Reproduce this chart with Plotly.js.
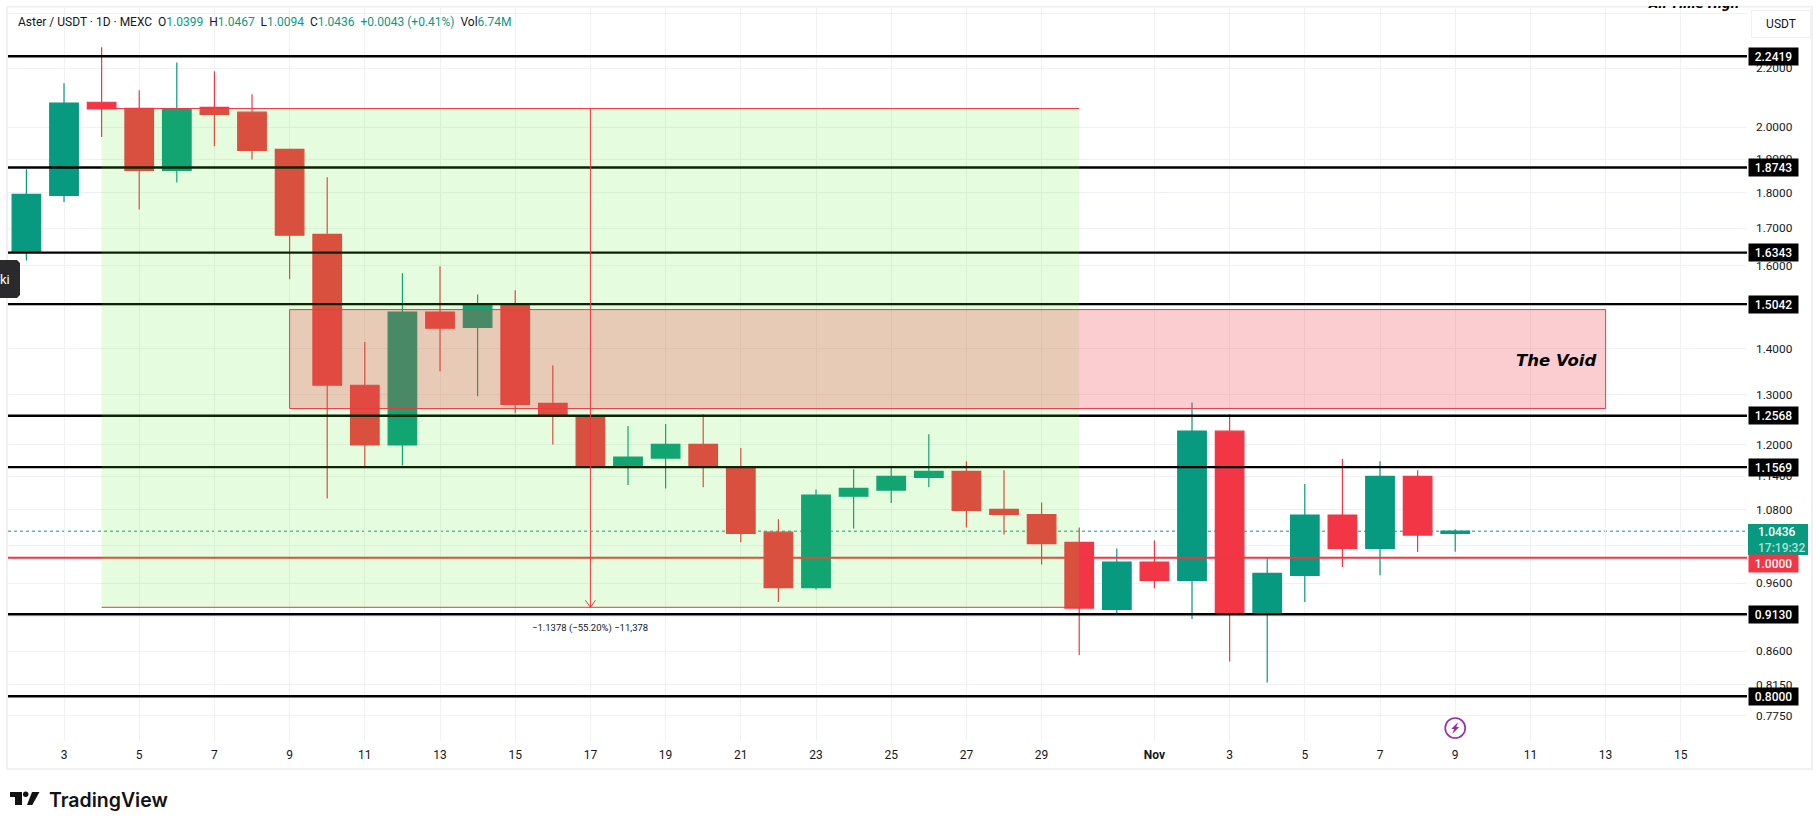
<!DOCTYPE html>
<html>
<head>
<meta charset="utf-8">
<script src="https://cdn.plot.ly/plotly-3.0.1.min.js"></script>
<style>
html,body{margin:0;padding:0;background:#fff;overflow:hidden}
#chart{width:1816px;height:819px}
#strip{position:absolute;left:0;top:0;width:1816px;height:6px;background:#fff;z-index:10}
</style>
</head>
<body>
<div id="chart"></div>
<div id="strip"></div>
<script>
const dates = ['2025-10-02','2025-10-03','2025-10-04','2025-10-05','2025-10-06','2025-10-07','2025-10-08','2025-10-09','2025-10-10','2025-10-11','2025-10-12','2025-10-13','2025-10-14','2025-10-15','2025-10-16','2025-10-17','2025-10-18','2025-10-19','2025-10-20','2025-10-21','2025-10-22','2025-10-23','2025-10-24','2025-10-25','2025-10-26','2025-10-27','2025-10-28','2025-10-29','2025-10-30','2025-10-31','2025-11-01','2025-11-02','2025-11-03','2025-11-04','2025-11-05','2025-11-06','2025-11-07','2025-11-08','2025-11-09'];
const opens  = [1.637,1.792,2.082,2.062,1.866,2.065,2.049,1.930,1.683,1.320,1.199,1.485,1.449,1.502,1.282,1.256,1.157,1.174,1.200,1.157,1.042,0.953,1.104,1.115,1.138,1.149,1.081,1.072,1.025,0.920,0.993,0.964,1.226,0.914,0.972,1.071,1.015,1.140,1.0399];
const highs  = [1.869,2.147,2.275,2.123,2.220,2.189,2.109,1.930,1.845,1.415,1.581,1.599,1.528,1.538,1.363,1.258,1.236,1.240,1.260,1.193,1.064,1.116,1.153,1.157,1.220,1.168,1.151,1.093,1.050,1.015,1.028,1.284,1.260,1.001,1.126,1.172,1.168,1.151,1.0467];
const lows   = [1.614,1.773,1.969,1.752,1.830,1.940,1.899,1.566,1.100,1.157,1.160,1.350,1.297,1.262,1.200,1.155,1.124,1.118,1.120,1.025,0.931,0.950,1.048,1.092,1.120,1.050,1.038,0.989,0.855,0.914,0.952,0.906,0.846,0.818,0.931,0.985,0.972,1.009,1.0094];
const closes = [1.795,2.079,2.060,1.866,2.060,2.042,1.927,1.681,1.320,1.199,1.485,1.447,1.502,1.280,1.258,1.157,1.176,1.200,1.158,1.040,0.953,1.106,1.118,1.140,1.149,1.079,1.072,1.023,0.922,0.993,0.964,1.226,0.914,0.975,1.071,1.015,1.140,1.037,1.0436];

const blackLevels = [2.2419,1.8743,1.6343,1.5042,1.2568,1.1569,0.9130,0.8000];
const blackLabels = ['2.2419','1.8743','1.6343','1.5042','1.2568','1.1569','0.9130','0.8000'];
const redLevel = 1.0000, lastPrice = 1.0436;
const priceTicks = [2.4,2.2,2.0,1.9,1.8,1.7,1.6,1.5,1.4,1.3,1.2,1.14,1.08,1.02,0.96,0.91,0.86,0.815,0.775];
const priceTickText = ['','2.2000','2.0000','1.9000','1.8000','1.7000','1.6000','','1.4000','1.3000','1.2000','1.1400','1.0800','','0.9600','','0.8600','0.8150','0.7750'];
const timeTicks = ['2025-10-03','2025-10-05','2025-10-07','2025-10-09','2025-10-11','2025-10-13','2025-10-15','2025-10-17','2025-10-19','2025-10-21','2025-10-23','2025-10-25','2025-10-27','2025-10-29','2025-11-01','2025-11-03','2025-11-05','2025-11-07','2025-11-09','2025-11-11','2025-11-13','2025-11-15'];
const timeTickText = ['3','5','7','9','11','13','15','17','19','21','23','25','27','29','<b>Nov</b>','3','5','7','9','11','13','15'];

const measure = {x0:'2025-10-04', x1:'2025-10-30', xArrow:'2025-10-17', top:2.0610, bottom:0.9232, label:'\u22121.1378 (\u221255.20%) \u221211,378'};
const voidZone = {x0:'2025-10-09', x1:'2025-11-13', top:1.491, bottom:1.2714, label:'The Void'};

const GREEN='#089981', RED='#F23645', INK='#131722', GRID='#f0f1f4';
const L=8,R=1747,T=7,B=741;
const px=v=>(v-L)/(R-L), py=v=>(B-v)/(B-T);
const FONT='Roboto, sans-serif';

const shapes=[];
const frame={type:'rect',xref:'paper',yref:'paper',x0:px(7),x1:px(1812),y0:py(769),y1:py(6.5),line:{color:'#f0f0f0',width:2},layer:'below'};
shapes.push(frame);
shapes.push({type:'line',xref:'paper',yref:'y',x0:0,x1:1,y0:lastPrice,y1:lastPrice,layer:'below',line:{color:GREEN,width:1,dash:'dot'}});
blackLevels.forEach(v=>shapes.push({type:'line',xref:'paper',yref:'y',x0:0,x1:1,y0:v,y1:v,layer:'above',line:{color:'#000',width:2.4}}));
shapes.push({type:'line',xref:'paper',yref:'y',x0:0,x1:1,y0:redLevel,y1:redLevel,layer:'above',line:{color:RED,width:2}});
shapes.push({type:'rect',xref:'x',yref:'y',x0:measure.x0,x1:measure.x1,y0:measure.bottom,y1:measure.top,layer:'above',fillcolor:'rgba(78,236,33,0.15)',line:{width:0}});
shapes.push({type:'rect',xref:'x',yref:'y',x0:voidZone.x0,x1:voidZone.x1,y0:voidZone.bottom,y1:voidZone.top,layer:'above',fillcolor:'rgba(242,54,69,0.25)',line:{color:RED,width:1}});
[measure.top,measure.bottom].forEach(v=>shapes.push({type:'line',xref:'x',yref:'y',x0:measure.x0,x1:measure.x1,y0:v,y1:v,layer:'above',line:{color:RED,width:1}}));
shapes.push({type:'line',xref:'x',yref:'y',x0:measure.xArrow,x1:measure.xArrow,y0:measure.top,y1:measure.bottom,layer:'above',line:{color:RED,width:1}});
shapes.push({type:'path',xref:'x',yref:'y',xsizemode:'pixel',ysizemode:'pixel',xanchor:measure.xArrow,yanchor:measure.bottom,path:'M-5,7 L0,0 L5,7',layer:'above',line:{color:RED,width:1}});
// last-price box
shapes.push({type:'rect',xref:'paper',yref:'paper',x0:px(1748),x1:px(1808),y0:py(555),y1:py(524),fillcolor:GREEN,line:{width:0},layer:'above'});
// cropped side tooltip
shapes.push({type:'path',xref:'paper',yref:'paper',path:`M ${px(0)} ${py(260)} L ${px(17)} ${py(260)} L ${px(20)} ${py(263)} L ${px(20)} ${py(295)} L ${px(17)} ${py(298)} L ${px(0)} ${py(298)} Z`,fillcolor:'#2a2a2c',line:{width:0},layer:'above'});
// lightning badge
const bx='2025-11-09', by=py(728);
shapes.push({type:'circle',xref:'x',yref:'paper',xsizemode:'pixel',ysizemode:'pixel',xanchor:bx,yanchor:by,x0:-10,x1:10,y0:-10,y1:10,layer:'above',line:{color:'#9c27b0',width:1.6}});
shapes.push({type:'path',xref:'x',yref:'paper',xsizemode:'pixel',ysizemode:'pixel',xanchor:bx,yanchor:by,path:'M3,6 L-4,-1 L-1,-1 L-3,-6 L4,1 L1,1 Z',fillcolor:'#9c27b0',layer:'above',line:{width:0}});
// logo
const ox=px(0), oy=py(0);
const logo={xref:'paper',yref:'paper',xsizemode:'pixel',ysizemode:'pixel',xanchor:ox,yanchor:oy,layer:'above',fillcolor:'#131313',line:{width:0}};
shapes.push(Object.assign({type:'path',path:'M10,-792 L22,-792 L22,-805 L15,-805 L15,-797 L10,-797 Z'},logo));
shapes.push(Object.assign({type:'circle',x0:23,x1:28.4,y0:-791.5,y1:-796.9},logo));
shapes.push(Object.assign({type:'path',path:'M32,-792 L39.5,-792 L32.3,-805 L27,-805 Z'},logo));

const ann=[];
blackLevels.forEach((v,i)=>ann.push({xref:'paper',yref:'y',x:px(1748),y:Math.log10(v),xanchor:'left',yanchor:'middle',text:blackLabels[i],showarrow:false,width:49,height:17,bgcolor:'#000',borderpad:0,font:{family:FONT,size:12,color:'#fff',weight:500}}));
ann.push({xref:'paper',yref:'paper',x:px(1748),y:py(563.5),xanchor:'left',yanchor:'middle',text:'1.0000',showarrow:false,width:49,height:17,bgcolor:RED,borderpad:0,font:{family:FONT,size:12,color:'#fff',weight:500}});
ann.push({xref:'paper',yref:'paper',x:px(1756),y:py(539.5),xanchor:'left',yanchor:'middle',align:'left',showarrow:false,text:'1.0436<br><span style="color:#b5e0d8">17:19:32</span>',font:{family:FONT,size:12,color:'#fff',weight:500}});
ann.push({xref:'paper',yref:'paper',x:px(1751),y:py(24),xanchor:'left',yanchor:'middle',text:'USDT',showarrow:false,width:58,height:26,bgcolor:'#fff',bordercolor:'#f0f0f0',borderwidth:1,borderpad:0,font:{family:FONT,size:12,color:INK}});
const g=s=>`<span style="color:${GREEN}">${s}</span>`;
ann.push({xref:'paper',yref:'paper',x:px(16),y:py(22),xanchor:'left',yanchor:'middle',align:'left',showarrow:false,font:{family:FONT,size:12,color:INK},
 text:`Aster / USDT \u00b7 1D \u00b7 MEXC&nbsp;&nbsp;O${g('1.0399')}&nbsp;&nbsp;H${g('1.0467')}&nbsp;&nbsp;L${g('1.0094')}&nbsp;&nbsp;C${g('1.0436')}&nbsp;&nbsp;${g('+0.0043 (+0.41%)')}&nbsp;&nbsp;Vol${g('6.74M')}`});
ann.push({xref:'x',yref:'paper',x:measure.xArrow,y:py(628),xanchor:'center',yanchor:'middle',text:measure.label,showarrow:false,font:{family:FONT,size:9.5,color:INK}});
ann.push({xref:'paper',yref:'paper',x:px(1598),y:py(360),xanchor:'right',yanchor:'middle',text:'<b><i>'+voidZone.label+'</i></b>',showarrow:false,font:{family:'DejaVu Sans, sans-serif',size:16.5,color:'#000'}});
ann.push({xref:'paper',yref:'paper',x:px(1741),y:py(4.5),xanchor:'right',yanchor:'middle',text:'<b><i>All Time High</i></b>',showarrow:false,font:{family:'DejaVu Sans, sans-serif',size:12,color:'#000'}});
ann.push({xref:'paper',yref:'paper',x:px(-2),y:py(279),xanchor:'left',yanchor:'middle',text:'ki',showarrow:false,font:{family:FONT,size:13,color:'#fff'}});
ann.push({xref:'paper',yref:'paper',x:px(47),y:py(800),xanchor:'left',yanchor:'middle',text:'TradingView',showarrow:false,font:{family:'Inter, sans-serif',size:19.5,color:'#131313',weight:600}});

const trace={type:'candlestick',x:dates,open:opens,high:highs,low:lows,close:closes,
 increasing:{line:{color:GREEN,width:1.2},fillcolor:GREEN},
 decreasing:{line:{color:RED,width:1.2},fillcolor:RED},
 whiskerwidth:0,hoverinfo:'skip'};

const layout={
 width:1816,height:819,paper_bgcolor:'#fff',plot_bgcolor:'#fff',
 margin:{l:L,r:1816-R,t:T,b:819-B,pad:0},showlegend:false,
 boxmode:'overlay',boxgap:0.24,boxgroupgap:0,
 font:{family:FONT,color:INK},
 xaxis:{type:'date',range:['2025-10-01 12:15','2025-11-16 18:15'],tickmode:'array',tickvals:timeTicks,ticktext:timeTickText,showgrid:true,gridcolor:GRID,gridwidth:1,zeroline:false,showline:false,ticks:'',ticklabelstandoff:5,tickfont:{family:FONT,size:12,color:INK},rangeslider:{visible:false},tickangle:0,fixedrange:true},
 yaxis:{type:'log',side:'right',range:[-0.1282,0.3851],tickmode:'array',tickvals:priceTicks,ticktext:priceTickText,showgrid:true,gridcolor:GRID,gridwidth:1,zeroline:false,showline:false,ticks:'',ticklabelstandoff:8,tickfont:{family:FONT,size:11.8,color:INK},fixedrange:true},
 shapes:shapes,annotations:ann
};
Plotly.newPlot('chart',[trace],layout,{displayModeBar:false,staticPlot:true});
</script>
</body>
</html>
